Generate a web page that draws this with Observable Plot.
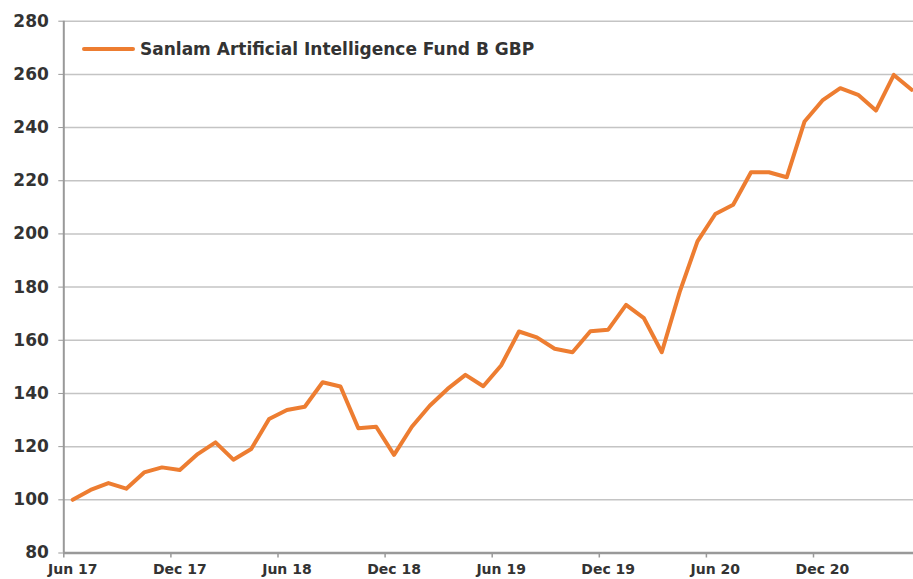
<!DOCTYPE html>
<html>
<head>
<meta charset="utf-8">
<script src="https://cdn.jsdelivr.net/npm/d3@7"></script>
<script src="https://cdn.jsdelivr.net/npm/@observablehq/plot@0.6"></script>
<style>
  html, body { margin: 0; padding: 0; background: #fff; overflow: hidden; }
  #wrap { position: relative; width: 913px; height: 579px; }
  #legend { position: absolute; left: 82px; top: 39px; display: flex; align-items: center;
    font-family: "DejaVu Sans", sans-serif; font-weight: 700; font-size: 17px; color: #333; white-space: nowrap; }
  #legend .sw { width: 53px; height: 4px; background: #ED7D31; border-radius: 2px; margin-right: 5px; }
</style>
</head>
<body>
<div id="wrap">
  <div id="chart"></div>
  <div id="legend"><span class="sw"></span><span>Sanlam Artificial Intelligence Fund B GBP</span></div>
</div>
<script>
const seriesName = "Sanlam Artificial Intelligence Fund B GBP";
const months = [
  "Jun 17","Jul 17","Aug 17","Sep 17","Oct 17","Nov 17","Dec 17",
  "Jan 18","Feb 18","Mar 18","Apr 18","May 18","Jun 18","Jul 18","Aug 18","Sep 18","Oct 18","Nov 18","Dec 18",
  "Jan 19","Feb 19","Mar 19","Apr 19","May 19","Jun 19","Jul 19","Aug 19","Sep 19","Oct 19","Nov 19","Dec 19",
  "Jan 20","Feb 20","Mar 20","Apr 20","May 20","Jun 20","Jul 20","Aug 20","Sep 20","Oct 20","Nov 20","Dec 20",
  "Jan 21","Feb 21","Mar 21","Apr 21","May 21"
];
const values = [
  100.0, 103.7, 106.3, 104.2, 110.3, 112.2, 111.2,
  117.2, 121.6, 115.1, 119.1, 130.4, 133.8, 135.0, 144.2, 142.6, 126.9, 127.5, 116.9,
  127.5, 135.4, 141.7, 147.0, 142.7, 150.5, 163.3, 161.1, 156.8, 155.5, 163.4, 164.0,
  173.3, 168.3, 155.5, 178.1, 197.2, 207.5, 211.0, 223.2, 223.2, 221.3, 242.3, 250.2,
  254.8, 252.3, 246.4, 259.8, 254.2
];
const xTickLabels = ["Jun 17","Dec 17","Jun 18","Dec 18","Jun 19","Dec 19","Jun 20","Dec 20"];
const yTicks = [80, 100, 120, 140, 160, 180, 200, 220, 240, 260, 280];

const data = months.map((m, i) => ({i, month: m, value: values[i]}));
const labelIdx = xTickLabels.map(l => months.indexOf(l));
const boundaryIdx = labelIdx.map(i => i - 0.5);

const font = "'DejaVu Sans', sans-serif";
const chart = Plot.plot({
  width: 913,
  height: 579,
  marginLeft: 63.3,
  marginRight: 0,
  marginTop: 20.7,
  marginBottom: 26.5,
  style: {background: "#fff", fontFamily: font, overflow: "hidden"},
  x: {type: "linear", domain: [-0.5, months.length - 0.5], range: [63.3, 63.3 + months.length * 17.85]},
  y: {domain: [80, 280]},
  marks: [
    Plot.gridY(yTicks, {stroke: "#c4c4c4", strokeOpacity: 1, strokeWidth: 1.5}),
    Plot.axisY({ticks: yTicks, tickSize: 5, tickPadding: 10, stroke: "#999", fontSize: 17, fontWeight: 700, fill: "#333", label: null}),
    Plot.axisX({ticks: boundaryIdx, tickFormat: () => "", tickSize: 5, stroke: "#999", strokeWidth: 1.5, label: null}),
    Plot.axisX({ticks: labelIdx, tickFormat: i => months[i], tickSize: 0, tickPadding: 11, fontSize: 14, fontWeight: 700, fill: "#333", label: null}),
    Plot.ruleX([-0.5], {y1: 80, y2: 280, stroke: "#999", strokeWidth: 2}),
    Plot.ruleY([80], {stroke: "#999", strokeWidth: 2.5}),
    Plot.line(data, {x: "i", y: "value", stroke: "#ED7D31", strokeWidth: 4, strokeLinejoin: "round"})
  ]
});
document.getElementById("chart").appendChild(chart);
</script>
</body>
</html>
